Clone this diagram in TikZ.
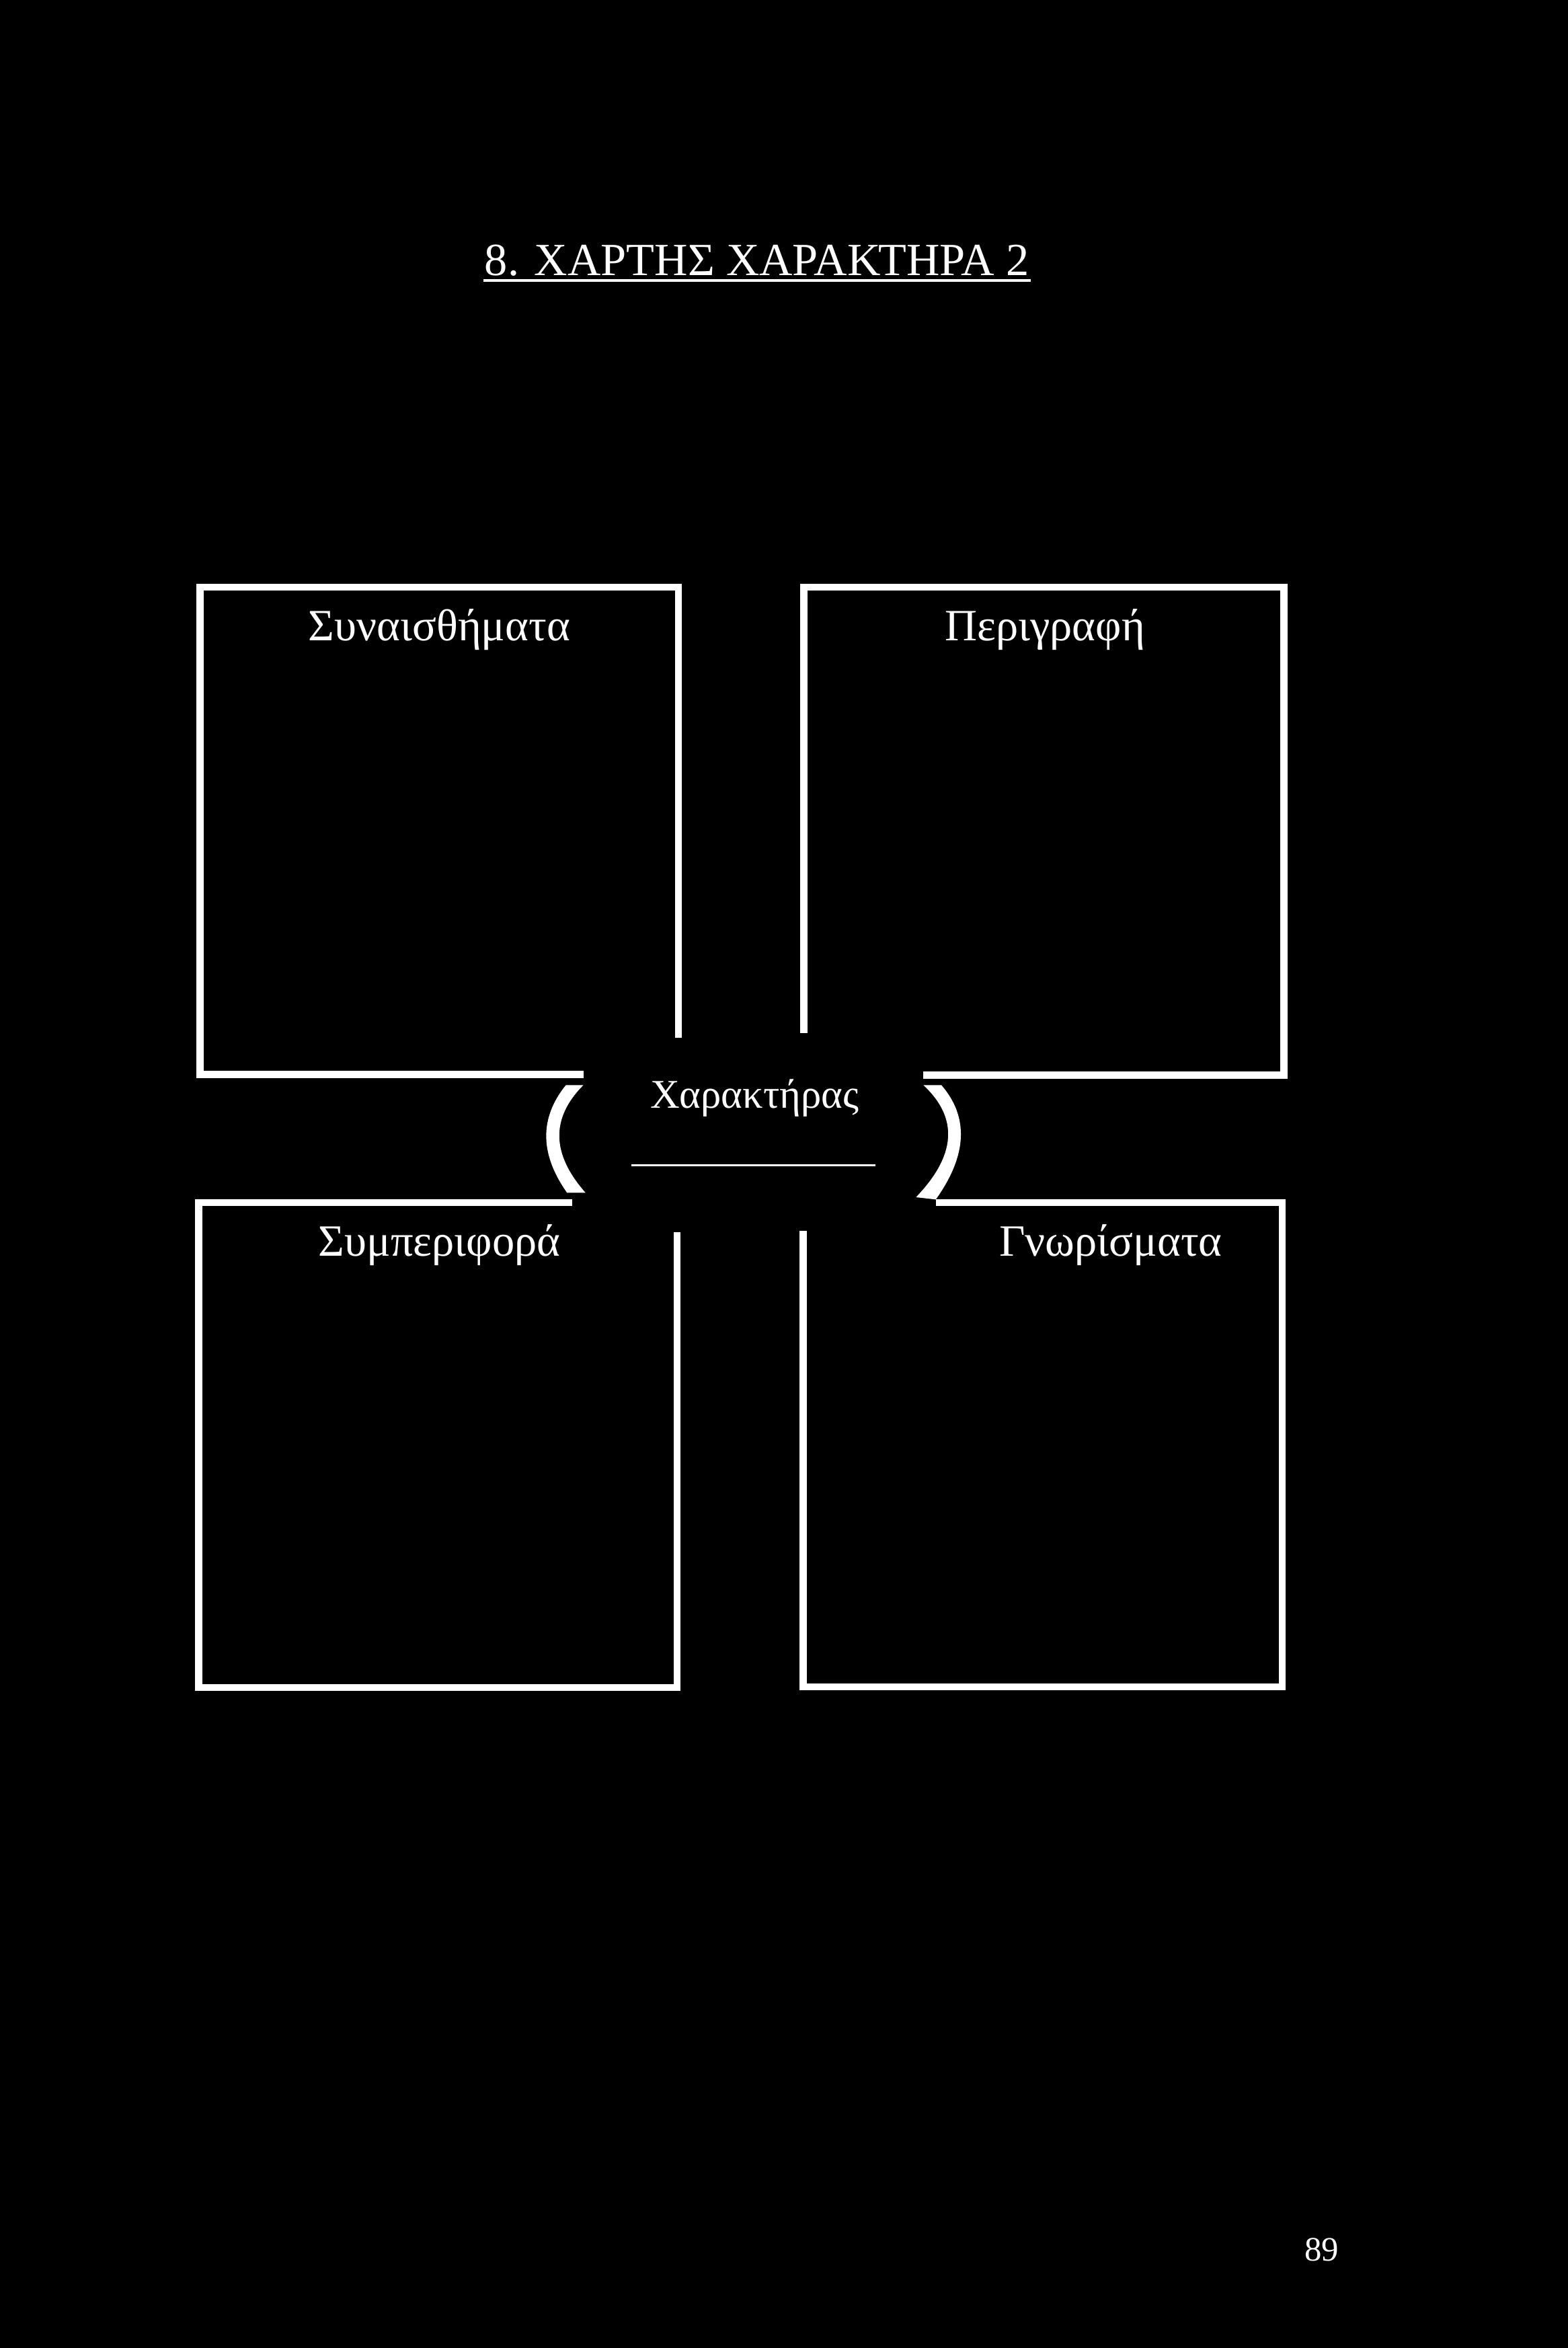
\documentclass[tikz,border=0pt]{standalone}
\usepackage{fontspec}
\setmainfont{Liberation Serif}
\begin{document}
\begin{tikzpicture}[x=0.02cm,y=-0.02cm,
    frame/.style={white,line width=2.7pt,line join=miter},
    lbl/.style={white,anchor=base,inner sep=0pt,font=\fontsize{17}{20}\selectfont}]
  \useasboundingbox (0,0) rectangle (1047,1568);
  \fill[black] (-10,-10) rectangle (1057,1578);
  % title
  \node[lbl,font=\fontsize{17.5}{21}\selectfont] (title) at (505.6,184) {8. ΧΑΡΤΗΣ ΧΑΡΑΚΤΗΡΑ 2};
  \draw[white,line width=0.85pt] (323,187.3) -- (688.5,187.3);
  % the four boxes
  \draw[frame] (453.2,693) -- (453.2,392.2) -- (133.5,392.2) -- (133.5,717.5) -- (389.7,717.5);
  \draw[frame] (536.9,690) -- (536.9,392.2) -- (857.6,392.2) -- (857.6,718) -- (616.8,718);
  \draw[frame] (382.1,803) -- (132.8,803) -- (132.8,1127) -- (452.3,1127) -- (452.3,823);
  \draw[frame] (625.1,803) -- (856.6,803) -- (856.6,1126.5) -- (536.5,1126.5) -- (536.5,822);
  \node[lbl] (feelings) at (293.5,427.6) {Συναισθήματα};
  \node[lbl] (descr) at (698,427.6) {Περιγραφή};
  \node[lbl] (behav) at (293.6,839) {Συμπεριφορά};
  \node[lbl] (traits) at (742,838.6) {Γνωρίσματα};
  % centre: name of the character between brackets
  \fill[white] (378.05,724.6) .. controls (360.23,746.64) and (360.48,770.61) .. (378.8,796.5)
    -- (391.1,796.5) .. controls (368.23,770.61) and (367.77,746.64) .. (389.7,724.6) -- cycle;
  \fill[white] (628.8,724.6) .. controls (647.37,746.07) and (646.13,771.53) .. (625.1,801)
    -- (611.9,799.5) .. controls (638.8,771.53) and (640.44,746.57) .. (616.8,724.6) -- cycle;
  \node[lbl,font=\fontsize{15.5}{18}\selectfont] (charname) at (504,740) {Χαρακτήρας};
  \draw[white,line width=0.85pt] (421.7,778) -- (584.8,778);
  % page number
  \node[lbl,font=\fontsize{13}{15}\selectfont] (pagenum) at (883,1510) {89};
\end{tikzpicture}
\end{document}
